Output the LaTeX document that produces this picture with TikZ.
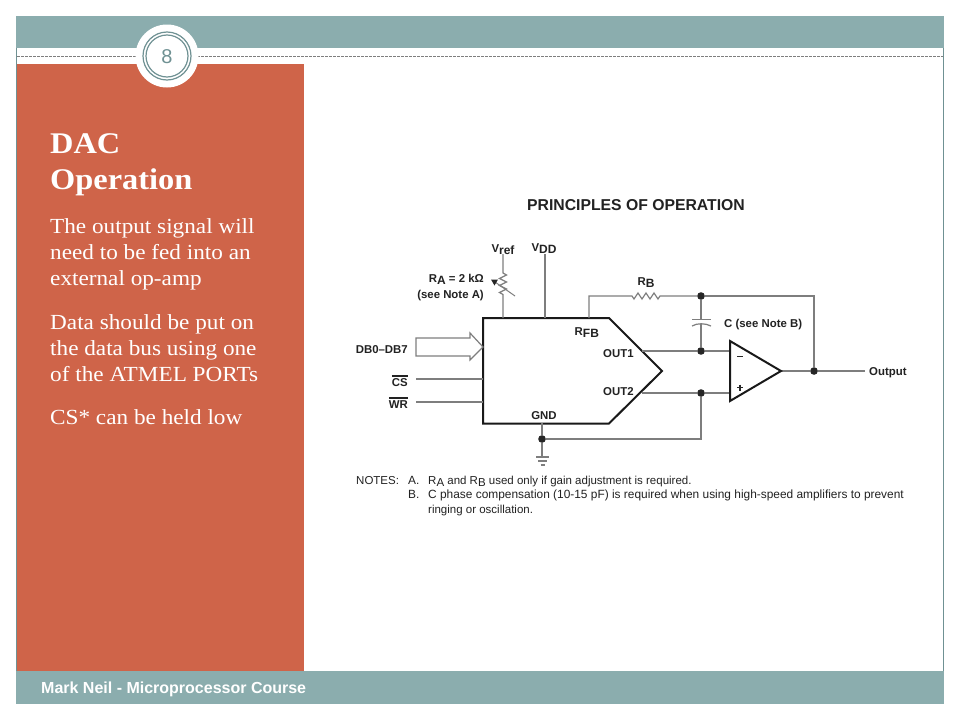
\documentclass[tikz,border=0pt]{standalone}
\usepackage{fontspec}
\setmainfont[FakeStretch=1.08]{Liberation Serif}
\setsansfont{Liberation Sans}
\usetikzlibrary{arrows.meta}
\definecolor{teal1}{HTML}{8BADAE}
\definecolor{tealdk}{HTML}{6F9193}
\definecolor{orange1}{HTML}{CF6449}
\definecolor{wire}{HTML}{7E7E7E}
\definecolor{lbl}{HTML}{222222}
\tikzset{
 x=1pt,y=-1pt,
 wireline/.style={draw=wire,line width=1.2pt},
 chipline/.style={draw=black!90,line width=2pt,line join=miter},
 dotnode/.style={circle,fill=black!85,inner sep=0pt,minimum size=7.6pt},
 lab/.style={font=\sffamily\bfseries\fontsize{11.4}{13}\selectfont,text=lbl,inner sep=0pt},
 note/.style={font=\sffamily\fontsize{11.9}{13}\selectfont,text=lbl,inner sep=0pt,anchor=base west},
 slide/.style={font=\fontsize{21.5}{26}\selectfont,text=white,inner sep=0pt,anchor=base west},
 slidetitle/.style={font=\bfseries\fontsize{30}{36}\selectfont,text=white,inner sep=0pt,anchor=base west},
}
\begin{document}
\begin{tikzpicture}
\useasboundingbox (0,0) rectangle (960,720);
\fill[white] (0,0) rectangle (960,720);
% frame
\draw[tealdk,line width=.8pt] (16.5,16.5) rectangle (943.5,703.5);
\fill[teal1] (16,16) rectangle (944,48);
\fill[teal1] (16,671) rectangle (944,704);
\fill[orange1] (17,64) rectangle (304,671);
\draw[wire,dash pattern=on 3pt off 1pt,line width=.7pt] (17,56) -- (943,56);
\fill[white] (167,56) circle (31.5);
\draw[tealdk,line width=1.2pt] (167,56) circle (24);
\draw[tealdk,line width=1.2pt] (167,56) circle (21);
\node[font=\sffamily\fontsize{20}{24}\selectfont,text=tealdk,inner sep=0pt] (pg) at (167,56.5) {8};
% left text
\node[slidetitle] (t1) at (50,153) {DAC};
\node[slidetitle] (t2) at (50,189) {Operation};
\node[slide] (b1) at (50,233.5) {The output signal will};
\node[slide] (b2) at (50,259.5) {need to be fed into an};
\node[slide] (b3) at (50,285.5) {external op-amp};
\node[slide] (b4) at (50,329.5) {Data should be put on};
\node[slide] (b5) at (50,355.5) {the data bus using one};
\node[slide] (b6) at (50,381.5) {of the ATMEL PORTs};
\node[slide] (b7) at (50,424.5) {CS* can be held low};
\node[font=\sffamily\bfseries\fontsize{16}{18}\selectfont,text=white,inner sep=0pt,anchor=base west] (foot) at (41,693) {Mark Neil - Microprocessor Course};
% diagram title
\node[font=\sffamily\bfseries\fontsize{15.75}{18}\selectfont,text=lbl,inner sep=0pt] (title) at (636,205) {PRINCIPLES OF OPERATION};
% chip
\draw[chipline] (483,318) -- (609,318) -- (662,371) -- (609,423.5) -- (483,423.5) -- cycle;
% coordinates
\coordinate (vrefT) at (503,254); \coordinate (vrefB) at (503,318);
\coordinate (vddT) at (545,254); \coordinate (vddB) at (545,318);
\coordinate (cs0) at (416,379); \coordinate (cs1) at (483,379);
\coordinate (wr0) at (416,402); \coordinate (wr1) at (483,402);
\coordinate (gnd0) at (542,423); \coordinate (gnd1) at (542,457);
\node[dotnode] (dG) at (542,439) {};
\node[dotnode] (d1) at (701,296) {};
\node[dotnode] (d2) at (701,351) {};
\node[dotnode] (d3) at (701,393) {};
\node[dotnode] (d4) at (814,371) {};
\coordinate (rfb) at (589,318);
\coordinate (o1) at (642,351); \coordinate (o2) at (642,393);
\coordinate (m) at (730,351); \coordinate (p) at (730,393);
\coordinate (opout) at (781,371); \coordinate (outEnd) at (865,371);
% wires
\draw[wireline] (vrefT) -- (503,273) -- ++(3.5,2) -- ++(-7,3.5) -- ++(7,3.5) -- ++(-7,3.5) -- ++(7,3.5) -- ++(-7,3.5) -- ++(3.5,2) -- (vrefB);
\draw[wireline] (vddT) -- (vddB);
\draw[wireline] (cs0) -- (cs1);
\draw[wireline] (wr0) -- (wr1);
\draw[wireline] (gnd0) -- (dG);
\draw[wireline] (dG) -- (gnd1);
\draw[wireline] (dG) -| (d3);
\draw[wireline] (rfb) -- (589,296) -- (632,296) -- ++(2,3) -- ++(4,-6) -- ++(4,6) -- ++(4,-6) -- ++(4,6) -- ++(4,-6) -- ++(4,6) -- ++(2,-3) -- (d1);
\draw[wireline] (d1) -- (814,296) -- (d4);
\draw[wireline] (d1) -- (701,320);
\draw[wireline] (701,324) -- (d2);
\draw[wireline] (692,319.5) -- (711,319.5);
\draw[wireline] (692,326) .. controls (697,323) and (705,323) .. (711,326);
\draw[wireline] (o1) -- (d2);
\draw[wireline] (d2) -- (m);
\draw[wireline] (o2) -- (d3);
\draw[wireline] (d3) -- (p);
\draw[wireline] (opout) -- (d4);
\draw[wireline] (d4) -- (outEnd);
% ground
\draw[wireline] (536,457) -- (549,457) (538,461) -- (547,461) (540.5,465) -- (544.5,465);
% wiper
\draw[wire,line width=1pt] (515,296) -- (495,282);
\fill[black!85] (491,279.5) -- (498,279.5) -- (494.5,285.5) -- cycle;
% bus arrow
\draw[draw=wire,line width=1.2pt,fill=white] (416,338) -- (470,338) -- (470,333) -- (483,347) -- (470,360) -- (470,356) -- (416,356) -- cycle;
% op-amp
\draw[chipline] (730,341) -- (781,371) -- (730,401) -- cycle;
\draw[black!85,line width=1.5pt] (737,356.5) -- (743,356.5);
\draw[black!85,line width=1.4pt] (737,387.5) -- (743,387.5) (740,384.5) -- (740,390.5);
% labels
\node[lab,anchor=base] (lvref) at (503,252) {V\raisebox{-2.5pt}{\fontsize{12}{13}\selectfont ref}};
\node[lab,anchor=base] (lvdd) at (544,251) {V\raisebox{-2.5pt}{\fontsize{12}{13}\selectfont DD}};
\node[lab,anchor=base east] (lra) at (484,282) {R\raisebox{-2.5pt}{\fontsize{12}{13}\selectfont A} = 2 kΩ};
\node[lab,anchor=base east] (lna) at (484,298) {(see Note A)};
\node[lab,anchor=base east] (ldb) at (408,353) {DB0--DB7};
\node[lab,anchor=base east] (lcs) at (408,386) {\rule[9.5pt]{16pt}{1.1pt}\hspace{-16pt}CS};
\node[lab,anchor=base east] (lwr) at (408,408) {\rule[9.5pt]{19pt}{1.1pt}\hspace{-19pt}WR};
\node[lab,anchor=base] (lgnd) at (544,419) {GND};
\node[lab,anchor=base west] (lrfb) at (574.5,335) {R\raisebox{-2.5pt}{\fontsize{12}{13}\selectfont FB}};
\node[lab,anchor=base west] (lo1) at (603,357) {OUT1};
\node[lab,anchor=base west] (lo2) at (603,395) {OUT2};
\node[lab,anchor=base] (lrb) at (646,285) {R\raisebox{-2.5pt}{\fontsize{12}{13}\selectfont B}};
\node[lab,anchor=base west] (lc) at (724,327) {C (see Note B)};
\node[lab,anchor=base west] (lout) at (869,375) {Output};
% notes
\node[note,font=\sffamily\fontsize{11.5}{13}\selectfont] (n0) at (356,484) {NOTES:};
\node[note] (n1) at (408,484) {A.};
\node[note,font=\sffamily\fontsize{11.5}{13}\selectfont] (n2) at (428,484) {R\raisebox{-2pt}{A} and R\raisebox{-2pt}{B} used only if gain adjustment is required.};
\node[note] (n3) at (408,498) {B.};
\node[note] (n4) at (428,498) {C phase compensation (10-15 pF) is required when using high-speed amplifiers to prevent};
\node[note,font=\sffamily\fontsize{11.5}{13}\selectfont] (n5) at (428,513) {ringing or oscillation.};
\end{tikzpicture}
\end{document}
